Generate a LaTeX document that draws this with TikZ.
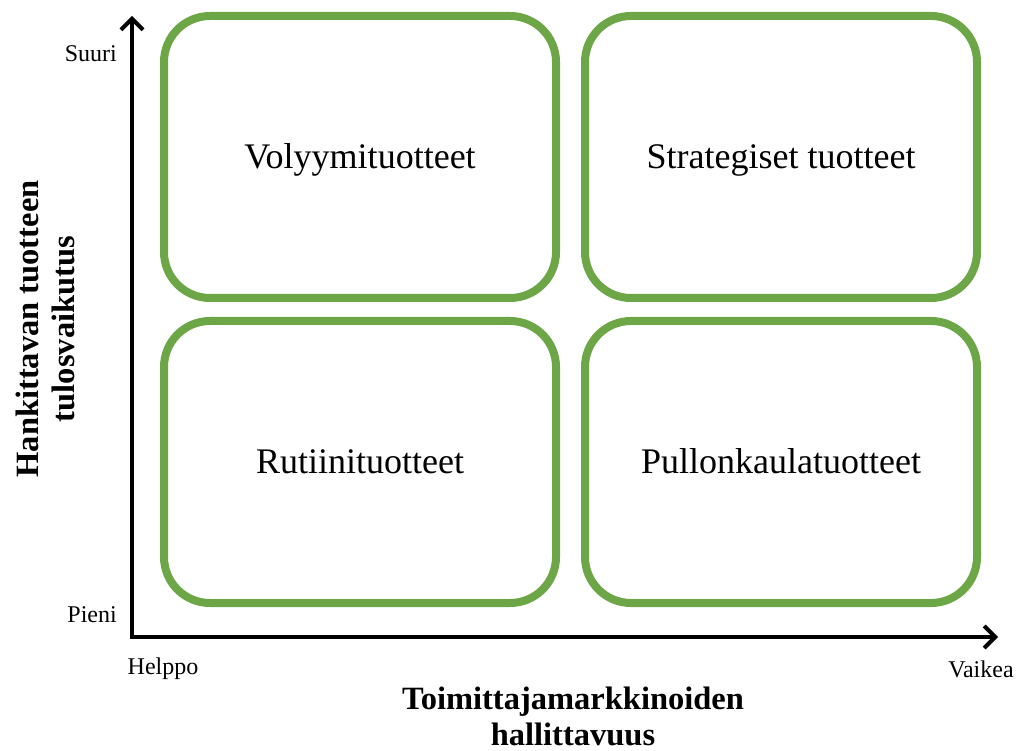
\documentclass[tikz,border=0pt]{standalone}
\usepackage{fontspec}
\setmainfont{Liberation Serif}
\usetikzlibrary{arrows.meta, positioning}
\definecolor{quadgreen}{RGB}{108,166,70}

\begin{document}
\begin{tikzpicture}[x=1pt, y=-1pt,
    quadrant/.style={draw=quadgreen, line width=8pt, rounded corners=46pt,
      minimum width=392pt, minimum height=282pt, inner sep=0pt,
      text height=23pt, text depth=0pt,
      font=\fontsize{36}{40}\selectfont},
    scalelabel/.style={inner sep=0pt, font=\fontsize{24}{28}\selectfont},
    axistitle/.style={inner sep=0pt, align=center,
      font=\bfseries\fontsize{32.5}{36}\selectfont},
    axisline/.style={line width=4pt,
      {Straight Barb[length=11pt,width=22pt]}-{Straight Barb[length=11pt,width=22pt]}}]
  \useasboundingbox (0,0) rectangle (1018,751);
  % quadrants
  \node[quadrant] (volume) at (360,157) {Volyymituotteet};
  \node[quadrant] (strategic) at (781,157) {Strategiset tuotteet};
  \node[quadrant] (routine) at (360,462) {Rutiinituotteet};
  \node[quadrant] (bottleneck) at (781,462) {Pullonkaulatuotteet};
  % axes
  \coordinate (origin) at (132,637);
  \coordinate (ytip) at (132,16);
  \coordinate (xtip) at (998,637);
  \draw[axisline] (ytip) |- (xtip);
  % scale ends
  \node[scalelabel, anchor=east] (high) at (117,54) {Suuri};
  \node[scalelabel, anchor=east] (low) at (117,615) {Pieni};
  \node[scalelabel] (easy) at (163,669) {Helppo};
  \node[scalelabel] (hard) at (981,669) {Vaikea};
  % axis titles
  \node[axistitle, rotate=90] (ytitle) at (45,329) {Hankittavan tuotteen\\tulosvaikutus};
  \node[axistitle, anchor=north] (xtitle) at (573,687) {Toimittajamarkkinoiden\\hallittavuus};
\end{tikzpicture}
\end{document}
